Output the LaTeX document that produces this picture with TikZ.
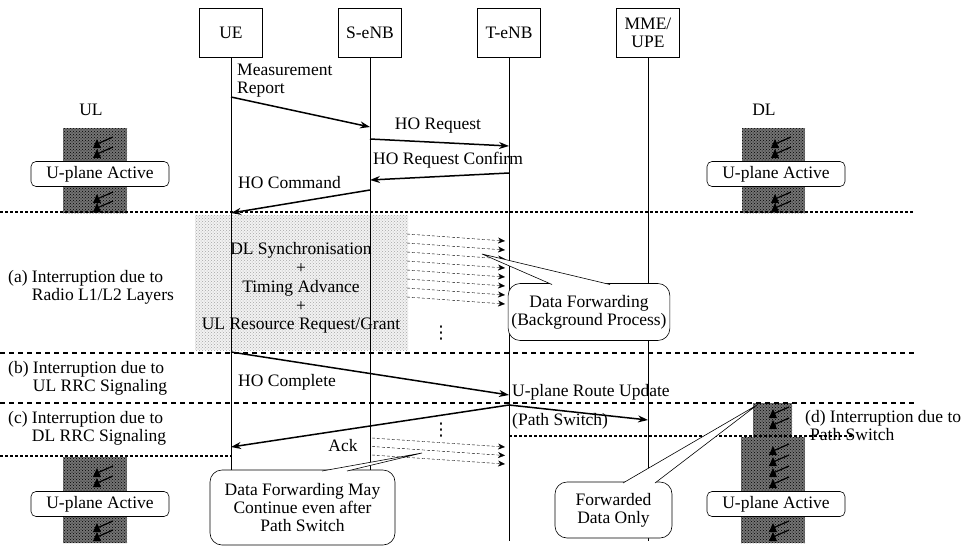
\documentclass[tikz,border=0pt]{standalone}
\usepackage{fontspec}
\setmainfont{Liberation Serif}
\newfontfamily\symfont{DejaVu Sans}
\usetikzlibrary{positioning}
\usetikzlibrary{arrows}
\usetikzlibrary{arrows.meta}
\usetikzlibrary{patterns}
\tikzset{node distance=139pt,
    every node/.style={
        font=\fontsize{17.5}{18}\selectfont},
    entity/.style={
        draw,
        semithick,
        fill=white,
        align=center,
        minimum width=63pt,
        minimum height=49pt},
    lifeline/.style={
        semithick},
    every edge/.style={
        draw,
        ->,>={Stealth[length=10pt,width=7pt]},
        line width=1.5pt},
    fwd/.style={
        draw,
        densely dashed,
        thin,
        -{Stealth[length=7pt,width=6pt]}},
    phase/.style={
        line width=1.2pt,
        dash pattern=on 5pt off 4pt},
    gap/.style={
        line width=2.6pt,
        dash pattern=on 2.6pt off 2.4pt},
    msgtext/.style={
        inner sep=0pt},
    active/.style={
        draw,
        semithick,
        fill=white,
        rounded corners=5pt,
        minimum width=138pt,
        minimum height=25pt},
    note/.style={
        draw,
        semithick,
        fill=white,
        align=center,
        rounded corners=12pt},
    darkbg/.style={
        fill=black!55,
        postaction={pattern=crosshatch dots, pattern color=black}},
    lightbg/.style={
        fill=gray!10,
        postaction={pattern=crosshatch dots, pattern color=gray!70}}}

\begin{document}
\begin{tikzpicture}[x=1pt,y=-1pt]
    \useasboundingbox (0,0) rectangle (978,547);
    % textured areas
    \path[lightbg] (195,215) rectangle (408,350);
    \foreach \bx/\by/\ex/\ey in {63/128/127/213, 742/128/805/213, 63/457/127/543,
        753/403/792/437, 741/437/805/543}
        \path[darkbg] (\bx,\by) rectangle (\ex,\ey);
    \foreach \cx/\cy in {97/143, 97/153, 97/198, 97/207, 775/143, 775/153, 775/198,
        775/207, 97/472, 97/482, 97/527, 97/536, 773/413, 773/424, 773/450,
        773/461, 773/472, 773/483, 773/527, 773/536} {
        \fill (\cx-4,\cy+5) -- (\cx,\cy-4) -- (\cx+4,\cy+5) -- cycle;
        \draw[line width=1.2pt] (\cx,\cy+1) -- (\cx+16,\cy-6);
    }

    % entities and lifelines
    \node[entity] (ue) at (231,33) {UE};
    \node[entity, right of=ue] (senb) {S-eNB};
    \node[entity, right of=senb] (tenb) {T-eNB};
    \node[entity, right of=tenb] (mme) {MME/\\UPE};
    \coordinate (bottom) at (0,541);
    \foreach \p in {ue,senb,tenb,mme}
        \draw[lifeline] (\p) -- (\p |- bottom);

    % phase borders
    \draw[gap] (0,212) -- (913,212);
    \draw[phase] (0,353) -- (915,353);
    \draw[phase] (0,403) -- (915,403);
    \draw[gap] (0,456) -- (231,456);
    \draw[gap] (509,436) -- (852,436);

    % signalling
    \coordinate (mr-s) at (231,97);
    \coordinate (mr-e) at (370,127);
    \coordinate (req-s) at (370,139);
    \coordinate (req-e) at (509,146);
    \coordinate (cnf-s) at (509,173);
    \coordinate (cnf-e) at (370,180);
    \coordinate (cmd-s) at (370,190);
    \coordinate (cmd-e) at (231,213);
    \coordinate (cpl-s) at (231,352);
    \coordinate (cpl-e) at (509,395);
    \coordinate (ack-s) at (509,405);
    \coordinate (ack-e) at (231,447);
    \coordinate (ps-e) at (648,420);
    \draw (mr-s) edge (mr-e);
    \draw (req-s) edge (req-e);
    \draw (cnf-s) edge (cnf-e);
    \draw (cmd-s) edge (cmd-e);
    \draw (cpl-s) edge (cpl-e);
    \draw (ack-s) edge (ack-e);
    \draw (ack-s) edge (ps-e);

    % data forwarding
    \foreach \i in {0,...,7} {
        \coordinate (fs\i) at (407,{234+9*\i});
        \coordinate (fe\i) at (505,{241+9*\i});
        \draw[fwd] (fs\i) -- (fe\i);
    }
    \foreach \i in {0,1,2} {
        \coordinate (gs\i) at (372,{438+8.5*\i});
        \coordinate (ge\i) at (505,{447+8.5*\i});
        \draw[fwd] (gs\i) -- (ge\i);
    }

    % texts
    \node[msgtext, anchor=west, align=left] (mrtext) at (237,81) {Measurement\\Report};
    \node[msgtext] (reqtext) at (438,126) {HO Request};
    \node[msgtext, anchor=west] (cnftext) at (373,160) {HO Request Confirm};
    \node[msgtext, anchor=west] (cmdtext) at (238,183) {HO Command};
    \node[msgtext, anchor=west] (cpltext) at (238,382) {HO Complete};
    \node[msgtext, anchor=west] (routetext) at (512,392) {U-plane Route Update};
    \node[msgtext, anchor=west] (pstext) at (512,421) {(Path Switch)};
    \node[msgtext] (acktext) at (343,446) {Ack};
    \node[msgtext] (dots1) at (441,333) {\symfont ⋮};
    \node[msgtext] (dots2) at (441,430) {\symfont ⋮};
    \node[msgtext, align=center, font=\fontsize{17.5}{18.8}\selectfont] (radio) at (301,288)
        {DL Synchronisation\\+\\Timing Advance\\+\\UL Resource Request/Grant};
    \node[msgtext] (ultext) at (91,110) {UL};
    \node[msgtext] (dltext) at (764,110) {DL};
    \node[msgtext, anchor=west, align=left] (inta) at (8,287)
        {(a) Interruption due to\\\phantom{(a) }Radio L1/L2 Layers};
    \node[msgtext, anchor=west, align=left] (intb) at (8,378)
        {(b) Interruption due to\\\phantom{(b) }UL RRC Signaling};
    \node[msgtext, anchor=west, align=left] (intc) at (8,428)
        {(c) Interruption due to\\\phantom{(c) }DL RRC Signaling};
    \node[msgtext, anchor=west, align=left] (intd) at (805,426)
        {(d) Interruption due to\\\hspace{5pt}Path Switch};

    % u-plane boxes
    \node[active] (ulact) at (100,174) {U-plane Active};
    \node[active] (dlact) at (776,174) {U-plane Active};
    \node[active] (ulact2) at (100,504) {U-plane Active};
    \node[active] (dlact2) at (776,504) {U-plane Active};

    % callouts
    \node[note, minimum width=142pt, minimum height=57pt] (bgnote) at (589,312)
        {Data Forwarding\\(Background Process)};
    \coordinate (bgtip) at (482,254);
    \coordinate (bgb1) at (552,284.5);
    \coordinate (bgb2) at (610,284.5);
    \fill[white] (bgb1) -- (bgtip) -- (bgb2) -- cycle;
    \draw[semithick] (bgb1) -- (bgtip) -- (bgb2);

    \node[note, minimum width=185pt, minimum height=75pt] (maynote) at (302.5,507.5)
        {Data Forwarding May\\Continue even after\\Path Switch};
    \coordinate (maytip) at (422,453);
    \coordinate (mayb1) at (322,471);
    \coordinate (mayb2) at (347,471);
    \fill[white] (mayb1) -- (maytip) -- (mayb2) -- cycle;
    \draw[semithick] (mayb1) -- (maytip) -- (mayb2);

    \node[note, minimum width=117pt, minimum height=56pt] (fdnote) at (613.5,510)
        {Forwarded\\Data Only};
    \coordinate (fdtip) at (757,405);
    \coordinate (fdb1) at (623,483);
    \coordinate (fdb2) at (655,483);
    \fill[white] (fdb1) -- (fdtip) -- (fdb2) -- cycle;
    \draw[semithick] (fdb1) -- (fdtip) -- (fdb2);
\end{tikzpicture}
\end{document}
